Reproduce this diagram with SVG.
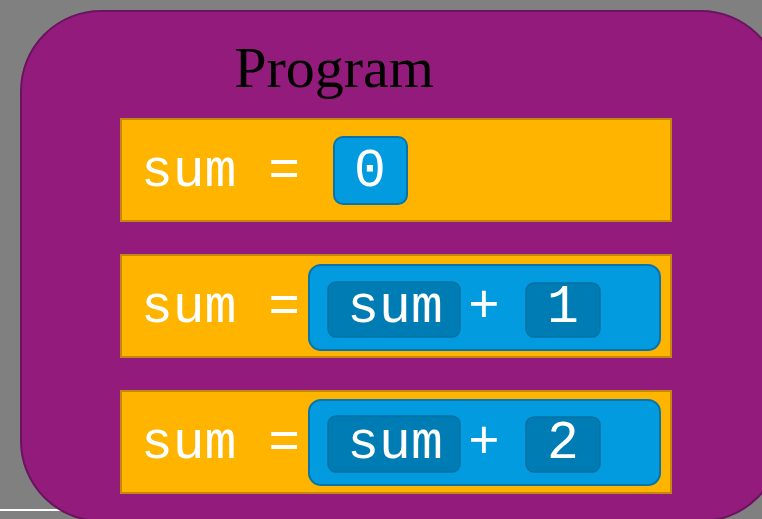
<svg xmlns="http://www.w3.org/2000/svg" width="762" height="519" viewBox="0 0 762 519">
<style>
.row{fill:#ffb400;stroke:#c5870c;stroke-width:2}
.expr{fill:#039be0;stroke:#0874ab;stroke-width:2}
.inner{fill:#007cb4;stroke:#0870a3;stroke-width:1.5}
.code{font-family:"Courier New","Liberation Mono",monospace;font-size:53px;fill:#ffffff}
.title{font-family:"Liberation Serif","Times New Roman",serif;font-size:58px;fill:#000000}
</style>
<rect x="0" y="0" width="762" height="519" fill="#808080"/>
<line x1="0" y1="510" x2="70" y2="510" stroke="#ffffff" stroke-width="2"/>
<g id="program">
<rect x="21" y="11" width="760" height="510" rx="80" ry="80" fill="#931b7c" stroke="#6a1460" stroke-width="2"/>
<text class="title" x="334" y="87" text-anchor="middle">Program</text>
</g>
<g id="stmt1">
<rect class="row" x="121" y="119" width="550" height="102"/>
<text class="code" x="141" y="186">sum =</text>
<g id="val0">
<rect class="expr" x="334" y="137" width="73" height="67" rx="9"/>
<text class="code" x="370" y="186" text-anchor="middle">0</text>
</g>
</g>
<g id="stmt2">
<rect class="row" x="121" y="255" width="550" height="102"/>
<text class="code" x="141" y="322">sum =</text>
<g id="expr2">
<rect class="expr" x="309" y="265" width="351" height="85" rx="12"/>
<rect class="inner" x="328" y="282" width="132" height="55" rx="8"/>
<text class="code" x="395" y="322" text-anchor="middle">sum</text>
<text class="code" x="484" y="322" text-anchor="middle">+</text>
<rect class="inner" x="526" y="283" width="74" height="54" rx="8"/>
<text class="code" x="563" y="322" text-anchor="middle">1</text>
</g>
</g>
<g id="stmt3">
<rect class="row" x="121" y="391" width="550" height="102"/>
<text class="code" x="141" y="458">sum =</text>
<g id="expr3">
<rect class="expr" x="309" y="400" width="351" height="85" rx="12"/>
<rect class="inner" x="328" y="416" width="132" height="56" rx="8"/>
<text class="code" x="395" y="458" text-anchor="middle">sum</text>
<text class="code" x="484" y="458" text-anchor="middle">+</text>
<rect class="inner" x="526" y="417" width="74" height="55" rx="8"/>
<text class="code" x="563" y="458" text-anchor="middle">2</text>
</g>
</g>
<g id="connectors"/>
</svg>
